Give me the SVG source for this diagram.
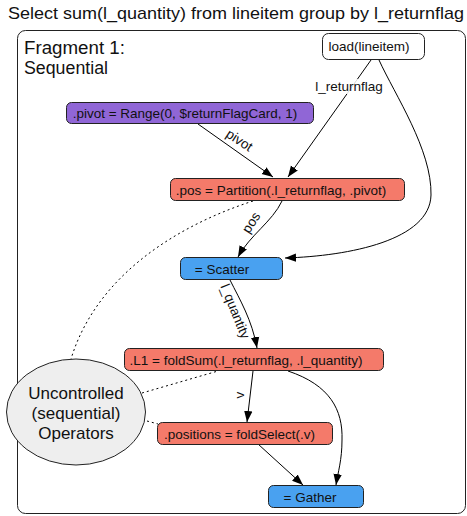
<svg xmlns="http://www.w3.org/2000/svg" width="467" height="516" viewBox="0 0 467 516">
<defs>
<marker id="arr" viewBox="0 0 11 10" refX="11" refY="5" markerWidth="11" markerHeight="10" markerUnits="userSpaceOnUse" orient="auto">
<path d="M0,0.8 L11,5 L0,9.2 Z" fill="#000"/>
</marker>
<style>
text{font-family:"Liberation Sans",Arial,sans-serif;fill:#111}
.node{stroke:#222;stroke-width:1}
.nt{font-size:13.5px;text-anchor:middle}
.edge{fill:none;stroke:#000;stroke-width:1;marker-end:url(#arr)}
.dot{fill:none;stroke:#000;stroke-width:1;stroke-dasharray:2,3}
.lbl{font-size:13.5px;text-anchor:middle}
.big{font-size:17px;text-anchor:middle}
</style>
</defs>
<rect width="467" height="516" fill="#fff"/>
<text x="8" y="19" font-size="17" textLength="456" lengthAdjust="spacingAndGlyphs">Select sum(l_quantity) from lineitem group by l_returnflag</text>
<rect x="17.5" y="30.5" width="448" height="483" rx="8" fill="none" stroke="#222" stroke-width="1"/>
<text x="24" y="53.5" font-size="17.5" textLength="101" lengthAdjust="spacingAndGlyphs">Fragment 1:</text>
<text x="24" y="74" font-size="17.5" textLength="84" lengthAdjust="spacingAndGlyphs">Sequential</text>

<g id="connectors">
<path class="edge" d="M371,60 L288,177"/>
<path class="edge" d="M379,60 C395,95 432,150 431,195 C430,240 350,256 285,258"/>
<path class="edge" d="M198,124 L273,177"/>
<path class="edge" d="M282,201 C272,222 250,235 238,257"/>
<path class="edge" d="M230,280 C240,300 252,320 257,348"/>
<path class="edge" d="M253,371 L247,422"/>
<path class="edge" d="M288,371 C330,385 343,410 342,440 C342,460 338,472 336,485"/>
<path class="edge" d="M258,444 L303,485"/>
<path class="dot" d="M253,201 C170,228 95,280 71,359"/>
<path class="dot" d="M142,393 L218,371"/>
<path class="dot" d="M147,421 L158,424"/>
<rect x="314" y="79" width="69" height="15" fill="#fff" opacity="0.85"/>
<text class="lbl" x="349" y="91">l_returnflag</text>
<text class="lbl" transform="translate(237,144) rotate(33)">pivot</text>
<text class="lbl" transform="translate(255,225) rotate(-57)">pos</text>
<text class="lbl" transform="translate(231,313) rotate(68)">l_quantity</text>
<text class="lbl" transform="translate(244,395) rotate(-90)">v</text>
</g>

<g id="load">
<rect class="node" x="322.5" y="33.5" width="102" height="26" rx="6" fill="#fff"/>
<text class="nt" x="369" y="51">load(lineitem)</text>
</g>
<g id="pivot">
<rect class="node" x="66.5" y="102.5" width="247" height="21" rx="5" fill="#9066d6"/>
<text class="nt" x="185" y="118">.pivot = Range(0, $returnFlagCard, 1)</text>
</g>
<g id="pos">
<rect class="node" x="170.5" y="178.5" width="234" height="22" rx="5" fill="#f47a6a"/>
<text class="nt" x="281" y="194.5">.pos = Partition(.l_returnflag, .pivot)</text>
</g>
<g id="scatter">
<rect class="node" x="180.5" y="257.5" width="102" height="22" rx="5" fill="#49a1f0"/>
<text class="nt" x="222" y="273.5">= Scatter</text>
</g>
<g id="l1">
<rect class="node" x="124.5" y="348.5" width="259" height="22" rx="5" fill="#f47a6a"/>
<text class="nt" x="246" y="364.5">.L1 = foldSum(.l_returnflag, .l_quantity)</text>
</g>
<g id="positions">
<rect class="node" x="157.5" y="422.5" width="175" height="22" rx="5" fill="#f47a6a"/>
<text class="nt" x="239.5" y="438.5">.positions = foldSelect(.v)</text>
</g>
<g id="gather">
<rect class="node" x="268.5" y="485.5" width="95" height="22" rx="5" fill="#49a1f0"/>
<text class="nt" x="310" y="501.5">= Gather</text>
</g>
<g id="uncontrolled">
<ellipse class="node" cx="76" cy="412" rx="69.5" ry="53" fill="#eeeeee"/>
<text class="big" x="76" y="399">Uncontrolled</text>
<text class="big" x="76" y="419">(sequential)</text>
<text class="big" x="76" y="439">Operators</text>
</g>
</svg>
